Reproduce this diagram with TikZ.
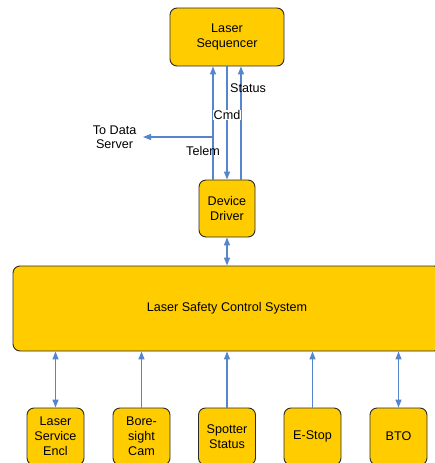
\documentclass[tikz,border=0pt]{standalone}
\usepackage{fontspec}
\setmainfont{Liberation Sans}
\usetikzlibrary{arrows.meta}
\definecolor{boxfill}{HTML}{FFCC00}
\definecolor{boxline}{HTML}{2B2B2B}
\definecolor{arrowblue}{HTML}{5585CC}
\tikzset{
  box/.style={draw=boxline, fill=boxfill, line width=0.9pt, rounded corners=7pt, align=center, font=\fontsize{12.6}{15}\selectfont, inner sep=0pt},
  conn/.style={draw=arrowblue, line width=1.3pt, -{Triangle[length=8pt,width=6pt]}},
  biconn/.style={draw=arrowblue, line width=1.3pt, {Triangle[length=8pt,width=6pt]}-{Triangle[length=8pt,width=6pt]}},
  lbl/.style={font=\fontsize{12.6}{14.5}\selectfont, inner sep=1pt, align=center},
}
\begin{document}
\begin{tikzpicture}[x=1pt,y=-1pt]
\useasboundingbox (0,0) rectangle (435,463);
\node[box, minimum width=114pt, minimum height=58pt] (ls) at (227,37) {Laser\\Sequencer};
\node[box, minimum width=56pt, minimum height=57pt] (dd) at (227,208.5) {Device\\Driver};
\node[box, minimum width=428pt, minimum height=85pt] (lscs) at (227,308.5) {Laser Safety Control System};
\node[box, minimum width=57pt, minimum height=57pt] (b1) at (55.5,436.5) {Laser\\Service\\Encl};
\node[box, minimum width=57pt, minimum height=57pt] (b2) at (141.5,436.5) {Bore-\\sight\\Cam};
\node[box, minimum width=57pt, minimum height=57pt] (b3) at (227,436.5) {Spotter\\Status};
\node[box, minimum width=57pt, minimum height=57pt] (b4) at (312.5,436.5) {E-Stop};
\node[box, minimum width=57pt, minimum height=57pt] (b5) at (398.5,436.5) {BTO};
% Sequencer <-> Driver
\draw[conn] ([xshift=-14pt]dd.north) -- ([xshift=-14pt]ls.south);
\draw[conn] (ls.south) -- (dd.north);
\draw[conn] ([xshift=14pt]dd.north) -- ([xshift=14pt]ls.south);
\coordinate (tj) at (213,137);
\coordinate (ds) at (143,137);
\draw[conn] (tj) -- (ds);
\node[lbl, anchor=east] (dstext) at (137.5,137) {To Data\\Server};
\node[lbl] (status) at (248,88) {Status};
\node[lbl, fill=white, inner sep=0.5pt] (cmd) at (227,115) {Cmd};
\node[lbl] (telem) at (203,151) {Telem};
% Driver <-> LSCS
\draw[biconn] (dd.south) -- (lscs.north);
% bottom
\draw[biconn] (b1.north) -- (b1.north |- lscs.south);
\draw[conn] (b2.north) -- (b2.north |- lscs.south);
\draw[conn] (b3.north) -- (b3.north |- lscs.south);
\draw[conn] (b4.north) -- (b4.north |- lscs.south);
\draw[biconn] (b5.north) -- (b5.north |- lscs.south);
\end{tikzpicture}
\end{document}
